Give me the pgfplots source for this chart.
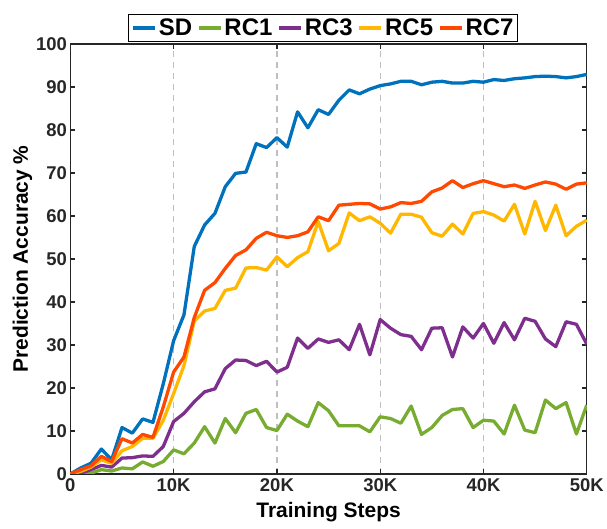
\documentclass[border=0pt]{standalone}
\usepackage{pgfplots}
\pgfplotsset{compat=1.18}
\usepackage{fontspec}
\setmainfont{Liberation Sans}
\definecolor{cSD}{RGB}{0,114,189}
\definecolor{cRC1}{RGB}{119,172,48}
\definecolor{cRC3}{RGB}{126,47,142}
\definecolor{cRC5}{RGB}{255,183,0}
\definecolor{cRC7}{RGB}{255,72,0}
\definecolor{tickgray}{RGB}{38,38,38}

\begin{document}
\begin{tikzpicture}
\path (-70.5pt,-55pt) rectangle (536.5pt,475pt);
\begin{axis}[
  at={(0,0)}, anchor=south west,
  scale only axis,
  width=517.5pt, height=431pt,
  xmin=0, xmax=50, ymin=0, ymax=100,
  xtick={0,10,20,30,40,50},
  xticklabels={0,10K,20K,30K,40K,50K},
  ytick={0,10,...,100},
  tick align=inside,
  major tick length=5pt,
  xmajorgrids,
  grid style={gray!50, dashed, line width=1.2pt, dash pattern=on 6pt off 5pt},
  axis line style={tickgray, line width=1.2pt},
  tick style={tickgray, line width=1.2pt},
  every tick label/.append style={font=\fontsize{18.5}{20}\selectfont\bfseries, text=tickgray},
  xticklabel style={yshift=-1pt},
  /pgf/number format/assume math mode=true,
  xlabel={Training Steps},
  ylabel={Prediction Accuracy \%},
  label style={font=\fontsize{21}{24}\selectfont\bfseries},
  xlabel style={inner sep=0pt, yshift=-7pt},
  ylabel style={yshift=-3pt},
  legend columns=5,
  legend style={at={(0.49,1.004)}, anchor=south, draw=black, line width=1pt,
    font=\fontsize{24}{27}\selectfont\bfseries, inner sep=2.5pt,
    /tikz/every even column/.append style={column sep=3pt}},
  legend image code/.code={\draw[#1, line width=3.5pt] (0pt,0pt) -- (22pt,0pt);},
  every axis plot/.append style={line width=3.3pt, line join=round},
]
\addplot[cSD] coordinates {
(0,0) (1,1.4) (2,2.5) (3,5.8) (4,3.3) (5,10.8) (6,9.5) (7,12.8) (8,12) (9,21)
(10,31) (11,37) (12,52.9) (13,57.9) (14,60.6) (15,66.8) (16,69.9) (17,70.2) (18,76.8) (19,75.9)
(20,78.2) (21,76) (22,84.2) (23,80.5) (24,84.7) (25,83.6) (26,86.9) (27,89.3) (28,88.4) (29,89.5)
(30,90.3) (31,90.7) (32,91.3) (33,91.3) (34,90.5) (35,91.1) (36,91.3) (37,90.9) (38,90.9) (39,91.3)
(40,91.1) (41,91.7) (42,91.5) (43,91.9) (44,92.1) (45,92.4) (46,92.5) (47,92.4) (48,92.1) (49,92.4) (50,92.9)
};
\addplot[cRC1] coordinates {
(0,0) (1,0.1) (2,0.2) (3,1) (4,0.7) (5,1.4) (6,1.2) (7,2.8) (8,1.8) (9,2.9)
(10,5.6) (11,4.7) (12,7.2) (13,11) (14,7.2) (15,12.9) (16,9.6) (17,14.1) (18,15) (19,10.8)
(20,10.1) (21,13.9) (22,12.3) (23,11) (24,16.6) (25,14.7) (26,11.2) (27,11.2) (28,11.2) (29,9.8)
(30,13.3) (31,12.9) (32,11.8) (33,15.8) (34,9.2) (35,10.8) (36,13.6) (37,15) (38,15.2) (39,10.8)
(40,12.5) (41,12.3) (42,9.3) (43,16) (44,10.2) (45,9.6) (46,17.2) (47,15.2) (48,16.6) (49,9.3) (50,16)
};
\addplot[cRC3] coordinates {
(0,0) (1,0.2) (2,1) (3,2) (4,1.6) (5,3.7) (6,3.8) (7,4.2) (8,4.1) (9,6.4)
(10,12.2) (11,14.1) (12,16.8) (13,19.1) (14,19.8) (15,24.5) (16,26.5) (17,26.4) (18,25.2) (19,26.2)
(20,23.7) (21,24.8) (22,31.6) (23,29.2) (24,31.4) (25,30.6) (26,31.2) (27,28.9) (28,34.8) (29,27.7)
(30,35.9) (31,33.9) (32,32.4) (33,32) (34,28.9) (35,33.9) (36,34) (37,27.2) (38,34.2) (39,31.6)
(40,35) (41,30.4) (42,35.2) (43,31.2) (44,36.2) (45,35.5) (46,31.4) (47,29.6) (48,35.4) (49,34.8) (50,30.2)
};
\addplot[cRC5] coordinates {
(0,0) (1,0.6) (2,1.6) (3,3.3) (4,2.5) (5,5.4) (6,6.4) (7,8.3) (8,8.3) (9,12.5)
(10,18.7) (11,25.2) (12,35.6) (13,37.9) (14,38.5) (15,42.7) (16,43.2) (17,47.9) (18,48) (19,47.4)
(20,50.5) (21,48.2) (22,50.3) (23,51.7) (24,58.7) (25,51.9) (26,53.6) (27,60.7) (28,58.9) (29,59.8)
(30,58.3) (31,56) (32,60.4) (33,60.4) (34,59.7) (35,56.1) (36,55.3) (37,58.1) (38,55.8) (39,60.6)
(40,61) (41,60.2) (42,58.8) (43,62.7) (44,55.8) (45,63.4) (46,56.6) (47,62.5) (48,55.4) (49,57.6) (50,59)
};
\addplot[cRC7] coordinates {
(0,0) (1,1) (2,1.9) (3,4.1) (4,2.9) (5,8.2) (6,7.2) (7,9.2) (8,8.5) (9,15.6)
(10,23.7) (11,27.2) (12,36.4) (13,42.7) (14,44.5) (15,47.8) (16,50.8) (17,52.1) (18,54.8) (19,56.2)
(20,55.4) (21,55) (22,55.4) (23,56.3) (24,59.8) (25,58.9) (26,62.5) (27,62.7) (28,62.9) (29,62.8)
(30,61.6) (31,62.1) (32,63.1) (33,62.9) (34,63.4) (35,65.6) (36,66.5) (37,68.2) (38,66.6) (39,67.5)
(40,68.2) (41,67.5) (42,66.8) (43,67.2) (44,66.4) (45,67.2) (46,67.9) (47,67.4) (48,66.2) (49,67.4) (50,67.7)
};
\legend{SD,RC1,RC3,RC5,RC7}
\end{axis}
\end{tikzpicture}
\end{document}
